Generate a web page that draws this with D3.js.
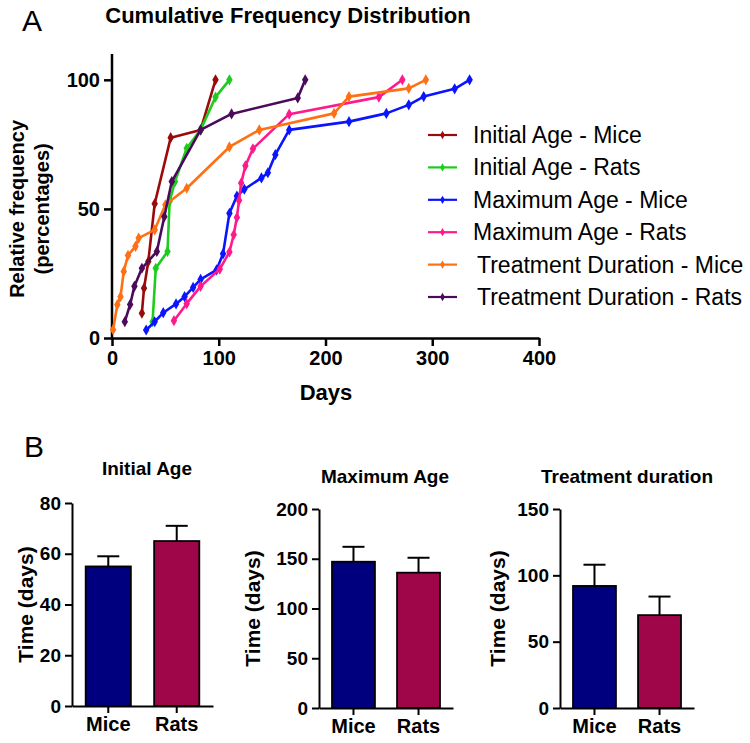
<!DOCTYPE html>
<html><head><meta charset="utf-8">
<script src="https://cdn.jsdelivr.net/npm/d3@7"></script>
<style>body{margin:0;background:#fff}svg{display:block;font-family:Arial,"Liberation Sans",sans-serif}</style>
</head><body><svg id="c" width="750" height="743"></svg>
<script>
// ---- Panel A data: [days, cumulative %] ----
const initialAgeMice = [[28,9.6],[30,19.3],[34,29.6],[40,52],[55,77.6],[83,80.6],[97,100]];
const initialAgeRats = [[38,6.3],[41,27],[52,33.5],[54,53],[59,60.6],[70,73.5],[83,80.6],[97,93.3],[110,100]];
const maxAgeMice = [[32,3.1],[40,6.3],[48,9.8],[60,13.2],[68,16],[76,19.6],[83,22.7],[98,26.4],[104,32.6],[110,48.3],[117,55],[124,57.6],[140,62],[146,64],[153,71],[166,80.6],[222,83.8],[257,87],[278,90.3],[292,93.5],[321,96.5],[335,100]];
const maxAgeRats = [[58,6.7],[70,13.3],[83,20],[101,26.7],[110,33.3],[114,40],[117,46.7],[119,53.3],[121,60],[125,66.7],[132,73.3],[166,86.7],[250,93.3],[272,100]];
const treatMice = [[1,3.2],[5,12.9],[8,16],[11,25.8],[15,32],[22,35.5],[25,38.7],[40,41.9],[50,51.6],[70,58],[110,74],[138,80.6],[208,87],[222,93.5],[278,96.7],[294,100]];
const treatRats = [[12,6.3],[17,13],[21,20],[28,27],[42,33.5],[49,47],[56,60.6],[83,80.6],[112,86.8],[174,93],[181,100]];
const seriesNames = ["Initial Age - Mice","Initial Age - Rats","Maximum Age - Mice","Maximum Age - Rats","Treatment Duration - Mice","Treatment Duration - Rats"];
const seriesColors = ["#9b0a0a","#1fcb1f","#0a14ff","#ff1a8c","#ff7014","#4b0a5a"];
const seriesData = [initialAgeMice,initialAgeRats,maxAgeMice,maxAgeRats,treatMice,treatRats];
const xTicksA = [0,100,200,300,400];
const yTicksA = [0,50,100];

// ---- Panel B data ----
const groups = ["Mice","Rats"];
const barColors = ["#00007f","#9f064a"];
const barTitles = ["Initial Age","Maximum Age","Treatment duration"];
const barMeans = [[55,65],[147,136],[92,70]];
const barErrTop = [[59,71],[162,151],[108,84]];
const barMax = [80,200,150];
const barTicks = [[0,20,40,60,80],[0,50,100,150,200],[0,50,100,150]];

const svg = d3.select("#c");
const FF = "Arial, Liberation Sans";

// ---------- Panel A ----------
svg.append("text").attr("x",22).attr("y",31).attr("font-size",30).text("A");
svg.append("text").attr("x",288).attr("y",23).attr("text-anchor","middle").attr("font-size",22).attr("font-weight","bold").text("Cumulative Frequency Distribution");

const xA = d3.scaleLinear().domain([0,400]).range([112,539]);
const yA = d3.scaleLinear().domain([0,110]).range([338,54]);

const gx = svg.append("g").attr("transform","translate(0,338)")
  .call(d3.axisBottom(xA).tickValues(xTicksA).tickSize(8).tickSizeOuter(0).tickPadding(5));
const gy = svg.append("g").attr("transform","translate(112,0)")
  .call(d3.axisLeft(yA).tickValues(yTicksA).tickSize(8).tickSizeOuter(0).tickPadding(4));
[gx,gy].forEach(g=>{
  g.selectAll("path,line").attr("stroke","#000").attr("stroke-width",2.5);
  g.selectAll("text").attr("font-size",20).attr("font-weight","bold").attr("fill","#000").attr("font-family",FF);
});
gy.select(".domain").attr("d","M0,"+yA(110)+"V338");
svg.append("text").attr("x",326).attr("y",400).attr("text-anchor","middle").attr("font-size",22).attr("font-weight","bold").text("Days");
const ylab = svg.append("text").attr("transform","translate(0,"+yA(50)+") rotate(-90)").attr("text-anchor","middle").attr("font-size",20).attr("font-weight","bold");
ylab.append("tspan").attr("x",0).attr("y",24).text("Relative frequency");
ylab.append("tspan").attr("x",0).attr("y",49).text("(percentages)");

const line = d3.line().x(d=>xA(d[0])).y(d=>yA(d[1]));
const diamond = d3.symbol().type(d3.symbolDiamond).size(36);
seriesData.forEach((s,i)=>{
  svg.append("path").datum(s).attr("d",line).attr("fill","none").attr("stroke",seriesColors[i]).attr("stroke-width",2.6).attr("stroke-linejoin","round");
  svg.append("g").selectAll("path").data(s).join("path").attr("d",diamond)
    .attr("transform",d=>"translate("+xA(d[0])+","+yA(d[1])+")").attr("fill",seriesColors[i]);
});

// legend
const legY = d3.scalePoint().domain(seriesNames).range([135,297]);
seriesNames.forEach((n,i)=>{
  const y = legY(n);
  svg.append("line").attr("x1",428).attr("x2",457).attr("y1",y).attr("y2",y).attr("stroke",seriesColors[i]).attr("stroke-width",2.2);
  svg.append("path").attr("d",d3.symbol().type(d3.symbolDiamond).size(20)).attr("transform","translate(442.5,"+y+")").attr("fill",seriesColors[i]);
  svg.append("text").attr("x",i>=4?477:473).attr("y",y+8).attr("font-size",23).text(n);
});

// ---------- Panel B ----------
svg.append("text").attr("x",24).attr("y",457).attr("font-size",30).text("B");
const panels = [
  {ax:72, end:213, y0:706, y1:503, tx:147, ty:475, lx:25},
  {ax:319, end:453, y0:708, y1:509, tx:385, ty:483, lx:252},
  {ax:560, end:694, y0:708, y1:509, tx:627, ty:483, lx:497}
];
panels.forEach((p,k)=>{
  const g = svg.append("g");
  const x = d3.scaleBand().domain(groups).range([p.ax,p.end]).paddingInner(0.34).paddingOuter(0.2);
  const y = d3.scaleLinear().domain([0,barMax[k]]).range([p.y0,p.y1]);
  g.append("text").attr("x",p.tx).attr("y",p.ty).attr("text-anchor","middle").attr("font-size",19).attr("font-weight","bold").text(barTitles[k]);
  groups.forEach((c,j)=>{
    const cx = x(c)+x.bandwidth()/2;
    g.append("line").attr("x1",cx).attr("x2",cx).attr("y1",y(barMeans[k][j])).attr("y2",y(barErrTop[k][j])).attr("stroke","#000").attr("stroke-width",2);
    g.append("line").attr("x1",cx-11).attr("x2",cx+11).attr("y1",y(barErrTop[k][j])).attr("y2",y(barErrTop[k][j])).attr("stroke","#000").attr("stroke-width",2);
    g.append("rect").attr("x",x(c)).attr("width",x.bandwidth()).attr("y",y(barMeans[k][j])).attr("height",p.y0-y(barMeans[k][j]))
      .attr("fill",barColors[j]).attr("stroke","#000").attr("stroke-width",1.8);
  });
  const ax = g.append("g").attr("transform","translate(0,"+p.y0+")").call(d3.axisBottom(x).tickSize(7).tickSizeOuter(0).tickPadding(4));
  const ay = g.append("g").attr("transform","translate("+p.ax+",0)").call(d3.axisLeft(y).tickValues(barTicks[k]).tickSize(7).tickSizeOuter(0).tickPadding(4));
  [ax,ay].forEach(a=>{
    a.selectAll("path,line").attr("stroke","#000").attr("stroke-width",2);
    a.selectAll("text").attr("font-size",19).attr("font-weight","bold").attr("fill","#000").attr("font-family",FF);
  });
  ax.selectAll("text").attr("font-size",20);
  g.append("text").attr("transform","translate("+(p.lx+8)+","+((p.y0+p.y1)/2)+") rotate(-90)").attr("text-anchor","middle").attr("font-size",21).attr("font-weight","bold").text("Time (days)");
});
</script></body></html>
